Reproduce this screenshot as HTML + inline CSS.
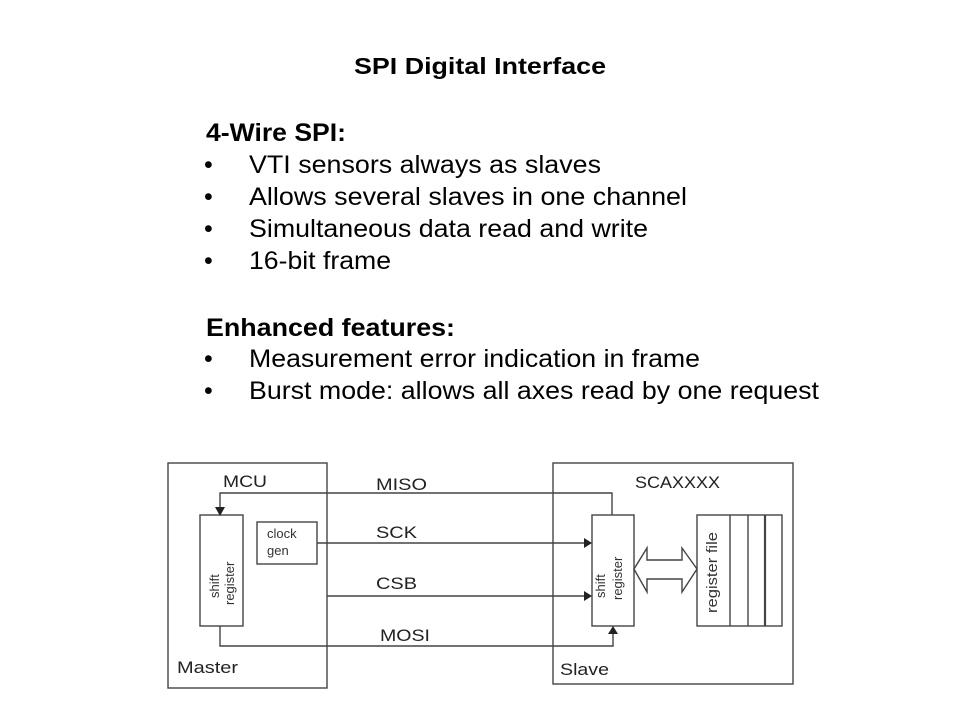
<!DOCTYPE html>
<html><head><style>
body{margin:0;width:960px;height:720px;background:#fff;overflow:hidden}
</style></head><body>
<svg width="960" height="720" style="position:absolute;left:0;top:0" font-family="Liberation Sans,Arial,sans-serif">
<g fill="#000">
<text x="354" y="74" font-size="23" font-weight="bold" textLength="252" lengthAdjust="spacingAndGlyphs">SPI Digital Interface</text>
<text x="206" y="141" font-size="25" font-weight="bold" textLength="140" lengthAdjust="spacingAndGlyphs">4-Wire SPI:</text>
<g font-size="25">
<text x="204" y="173">•</text><text x="249" y="173" textLength="352" lengthAdjust="spacingAndGlyphs">VTI sensors always as slaves</text>
<text x="204" y="205">•</text><text x="249" y="205" textLength="438" lengthAdjust="spacingAndGlyphs">Allows several slaves in one channel</text>
<text x="204" y="237">•</text><text x="249" y="237" textLength="399" lengthAdjust="spacingAndGlyphs">Simultaneous data read and write</text>
<text x="204" y="269">•</text><text x="249" y="269" textLength="142" lengthAdjust="spacingAndGlyphs">16-bit frame</text>
<text x="204" y="367">•</text><text x="249" y="367" textLength="451" lengthAdjust="spacingAndGlyphs">Measurement error indication in frame</text>
<text x="204" y="399">•</text><text x="249" y="399" textLength="570" lengthAdjust="spacingAndGlyphs">Burst mode: allows all axes read by one request</text>
</g>
<text x="206" y="336" font-size="25" font-weight="bold" textLength="249" lengthAdjust="spacingAndGlyphs">Enhanced features:</text>
</g>
<g fill="none" stroke="#444" stroke-width="1.4">
<rect x="168" y="463" width="159" height="225"/>
<rect x="553" y="463" width="240" height="221"/>
<rect x="200" y="515" width="43" height="111"/>
<rect x="257" y="522" width="60" height="42"/>
<rect x="592" y="515" width="42" height="111"/>
<rect x="697" y="515" width="85" height="111"/>
<line x1="730" y1="515" x2="730" y2="626"/>
<line x1="748" y1="515" x2="748" y2="626"/>
<line x1="765" y1="515" x2="765" y2="626" stroke-width="2.2"/>
<polyline points="612,515 612,493 220,493 220,507"/>
<line x1="317" y1="543" x2="584" y2="543"/>
<line x1="327" y1="596" x2="584" y2="596"/>
<polyline points="220,626 220,646 613,646 613,634"/>
<polygon points="634,569 647,548 647,560 682,560 682,548 697,569 682,592 682,579 647,579 647,592"/>
</g>
<g fill="#222">
<polygon points="215,507 225,507 220,516"/>
<polygon points="584,538 584,548 592,543"/>
<polygon points="584,591 584,601 592,596"/>
<polygon points="608,634 618,634 613,626"/>
</g>
<g font-size="17" fill="#222">
<text x="223" y="487" textLength="44" lengthAdjust="spacingAndGlyphs">MCU</text>
<text x="376" y="490" textLength="51" lengthAdjust="spacingAndGlyphs">MISO</text>
<text x="376" y="538" textLength="41" lengthAdjust="spacingAndGlyphs">SCK</text>
<text x="376" y="589" textLength="41" lengthAdjust="spacingAndGlyphs">CSB</text>
<text x="380" y="641" textLength="50" lengthAdjust="spacingAndGlyphs">MOSI</text>
<text x="635" y="488" textLength="85" lengthAdjust="spacingAndGlyphs">SCAXXXX</text>
<text x="177" y="673" textLength="61" lengthAdjust="spacingAndGlyphs">Master</text>
<text x="560" y="675" textLength="49" lengthAdjust="spacingAndGlyphs">Slave</text>
</g>
<g font-size="13" fill="#333">
<text x="267" y="538">clock</text>
<text x="267" y="555">gen</text>
<text transform="translate(219,598) rotate(-90)">shift</text>
<text transform="translate(234,605) rotate(-90)">register</text>
<text transform="translate(605,598) rotate(-90)">shift</text>
<text transform="translate(622,600) rotate(-90)">register</text>
<text transform="translate(717,613) rotate(-90)" font-size="15" textLength="81" lengthAdjust="spacingAndGlyphs">register file</text>
</g>
</svg>
</body></html>
